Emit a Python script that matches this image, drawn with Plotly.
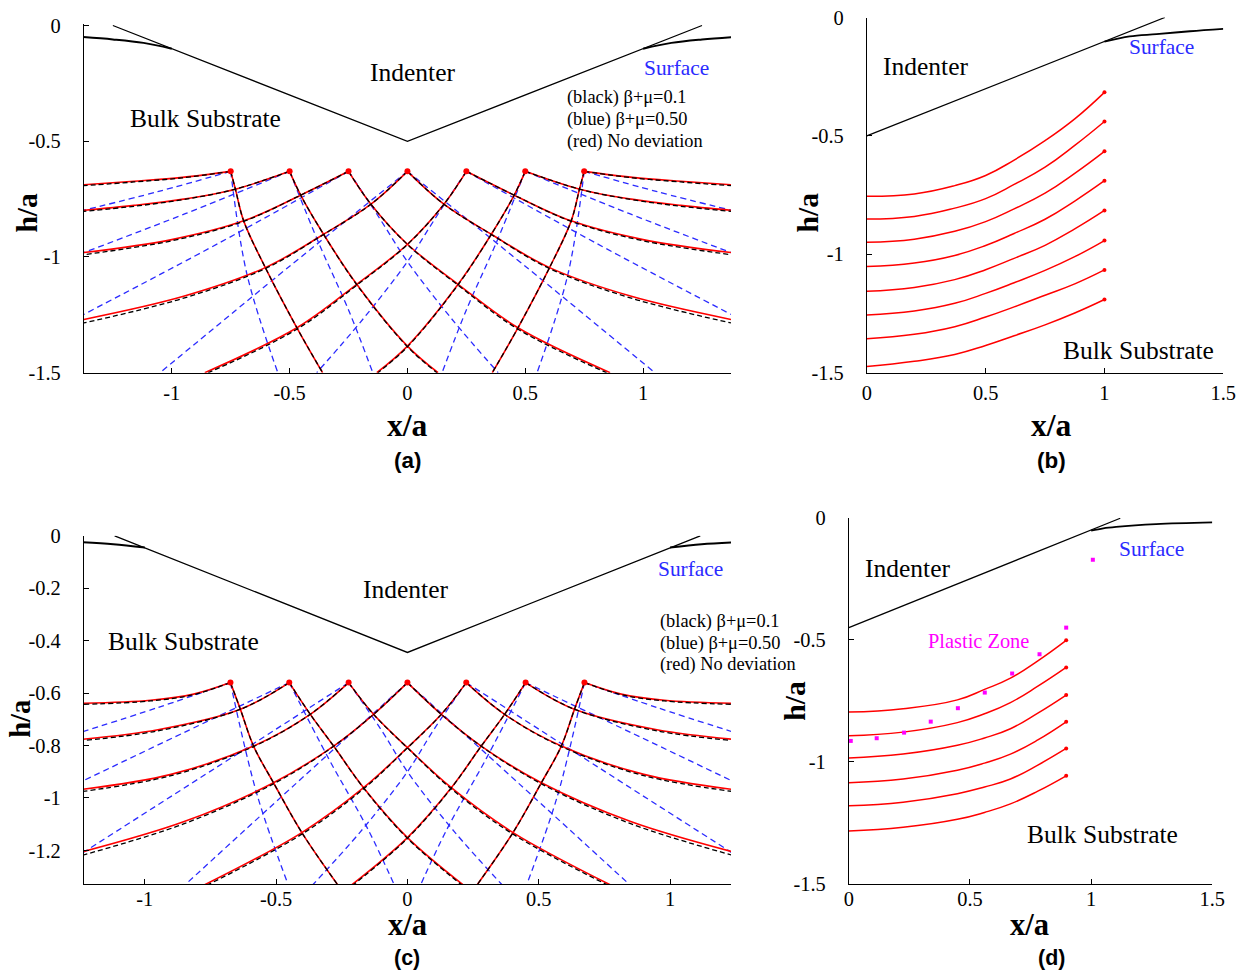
import plotly.graph_objects as go

W, H = 1252, 979
# measured mapping of the photographed page: shown = S * figure_px + O
SX, OX = 0.987, 4.0
SY, OY = 0.977, 10.5
FS = 1.02  # font compensation for that scaling

# ---------------- Panel (a) data ----------------
A_NODES_X = [-0.75, -0.5, -0.25, 0.0, 0.25, 0.5, 0.75]
A_NODES_Y = [-0.63, -0.63, -0.63, -0.63, -0.63, -0.63, -0.63]
A_INDENTER_X = [-1.25, 0.0, 1.25]
A_INDENTER_Y = [0.0, -0.5, 0.0]
A_SURF_X = [-1.375, -1.25, -1.12, -1.0]
A_SURF_Y = [-0.05, -0.06, -0.075, -0.1]
# left-going slip lines from nodes k=-3..3 (right-going ones are their mirror images)
A_RED_X = [
    [-0.75, -0.955, -1.16, -1.373],
    [-0.5, -0.73, -0.95, -1.16, -1.373],
    [-0.25, -0.453, -0.695, -1.0, -1.373],
    [0.0, -0.155, -0.356, -0.603, -0.95, -1.373],
    [0.25, 0.155, 0.0, -0.215, -0.469, -0.86],
    [0.5, 0.453, 0.356, 0.215, 0.0, -0.13],
    [0.75, 0.73, 0.695, 0.603, 0.469, 0.36],
]
A_RED_Y = [
    [-0.63, -0.656, -0.673, -0.688],
    [-0.63, -0.707, -0.75, -0.777, -0.798],
    [-0.63, -0.733, -0.844, -0.925, -0.981],
    [-0.63, -0.772, -0.902, -1.046, -1.17, -1.27],
    [-0.63, -0.772, -0.945, -1.118, -1.306, -1.5],
    [-0.63, -0.733, -0.902, -1.118, -1.385, -1.5],
    [-0.63, -0.707, -0.844, -1.046, -1.306, -1.5],
]
A_BLACK_X = [
    [-0.75, -0.955, -1.16, -1.373],
    [-0.5, -0.73, -0.95, -1.16, -1.373],
    [-0.25, -0.453, -0.695, -1.0, -1.373],
    [0.0, -0.155, -0.356, -0.603, -0.95, -1.373],
    [0.25, 0.155, 0.0, -0.215, -0.469, -0.845],
    [0.5, 0.453, 0.356, 0.215, 0.0, -0.125],
    [0.75, 0.73, 0.695, 0.603, 0.469, 0.36],
]
A_BLACK_Y = [
    [-0.63, -0.658, -0.676, -0.692],
    [-0.63, -0.707, -0.752, -0.781, -0.803],
    [-0.63, -0.733, -0.846, -0.930, -0.990],
    [-0.63, -0.772, -0.903, -1.050, -1.178, -1.285],
    [-0.63, -0.772, -0.946, -1.122, -1.312, -1.5],
    [-0.63, -0.733, -0.902, -1.120, -1.388, -1.5],
    [-0.63, -0.707, -0.844, -1.046, -1.306, -1.5],
]
A_BLUE_X = [
    [-0.75, -1.06, -1.373],
    [-0.5, -0.94, -1.373],
    [-0.25, -0.8, -1.373],
    [0.0, -0.5, -1.05],
    [0.25, 0.12, 0.0, -0.19, -0.385],
    [0.5, 0.375, 0.25, 0.147],
    [0.75, 0.681, 0.55],
]
A_BLUE_Y = [
    [-0.63, -0.718, -0.798],
    [-0.63, -0.812, -0.981],
    [-0.63, -0.94, -1.248],
    [-0.63, -1.04, -1.5],
    [-0.63, -0.83, -1.02, -1.27, -1.5],
    [-0.63, -0.943, -1.229, -1.5],
    [-0.63, -1.075, -1.5],
]

# ---------------- Panel (c) data ----------------
C_NODES_X = [-0.674, -0.45, -0.224, 0.0, 0.224, 0.45, 0.674]
C_NODES_Y = [-0.56, -0.56, -0.56, -0.56, -0.56, -0.56, -0.56]
C_INDENTER_X = [-1.115, 0.0, 1.115]
C_INDENTER_Y = [0.0, -0.445, 0.0]
C_SURF_X = [-1.236, -1.12, -1.0]
C_SURF_Y = [-0.025, -0.032, -0.045]
C_RED_X = [
    [-0.674, -0.814, -0.978, -1.236],
    [-0.45, -0.636, -0.95, -1.236],
    [-0.224, -0.37, -0.586, -0.9, -1.236],
    [0.0, -0.129, -0.281, -0.51, -0.85, -1.236],
    [0.224, 0.129, 0.0, -0.167, -0.402, -0.782],
    [0.45, 0.37, 0.281, 0.167, 0.0, -0.218],
    [0.674, 0.636, 0.586, 0.51, 0.402, 0.262],
]
C_RED_Y = [
    [-0.56, -0.604, -0.627, -0.639],
    [-0.56, -0.662, -0.74, -0.776],
    [-0.56, -0.681, -0.802, -0.91, -0.967],
    [-0.56, -0.681, -0.802, -0.942, -1.09, -1.205],
    [-0.56, -0.681, -0.808, -0.961, -1.132, -1.336],
    [-0.56, -0.681, -0.802, -0.961, -1.151, -1.336],
    [-0.56, -0.662, -0.802, -0.942, -1.132, -1.336],
]
C_BLACK_X = [
    [-0.674, -0.814, -0.978, -1.236],
    [-0.45, -0.636, -0.95, -1.236],
    [-0.224, -0.37, -0.586, -0.9, -1.236],
    [0.0, -0.129, -0.281, -0.51, -0.85, -1.236],
    [0.224, 0.129, 0.0, -0.167, -0.402, -0.77],
    [0.45, 0.37, 0.281, 0.167, 0.0, -0.212],
    [0.674, 0.636, 0.586, 0.51, 0.402, 0.262],
]
C_BLACK_Y = [
    [-0.56, -0.606, -0.630, -0.643],
    [-0.56, -0.662, -0.744, -0.781],
    [-0.56, -0.681, -0.804, -0.915, -0.975],
    [-0.56, -0.681, -0.803, -0.946, -1.098, -1.218],
    [-0.56, -0.681, -0.809, -0.965, -1.138, -1.336],
    [-0.56, -0.681, -0.802, -0.962, -1.154, -1.336],
    [-0.56, -0.662, -0.802, -0.942, -1.132, -1.336],
]
C_BLUE_X = [
    [-0.674, -0.95, -1.236],
    [-0.45, -0.85, -1.236],
    [-0.224, -0.73, -1.236],
    [0.0, -0.43, -0.852],
    [0.224, 0.1, 0.0, -0.18, -0.365],
    [0.45, 0.3, 0.15, 0.048],
    [0.674, 0.573, 0.452],
]
C_BLUE_Y = [
    [-0.56, -0.655, -0.747],
    [-0.56, -0.75, -0.935],
    [-0.56, -0.885, -1.209],
    [-0.56, -0.95, -1.336],
    [-0.56, -0.74, -0.90, -1.13, -1.336],
    [-0.56, -0.85, -1.12, -1.336],
    [-0.56, -0.986, -1.336],
]

# ---------------- Panel (b) data ----------------
B_INDENTER_X = [0.0, 1.254]
B_INDENTER_Y = [-0.5, 0.0]
B_SURF_X = [1.0, 1.106, 1.219, 1.36, 1.5]
B_SURF_Y = [-0.102, -0.080, -0.0705, -0.058, -0.048]
B_CURVE_X = [0.0, 0.2, 0.37, 0.5, 0.62, 0.75, 0.875, 1.0]
B_CURVES_Y = [
    [-0.755, -0.745, -0.710, -0.667, -0.602, -0.520, -0.428, -0.316],
    [-0.851, -0.840, -0.805, -0.765, -0.705, -0.632, -0.540, -0.439],
    [-0.949, -0.936, -0.903, -0.862, -0.808, -0.742, -0.658, -0.565],
    [-1.052, -1.037, -1.005, -0.963, -0.912, -0.852, -0.775, -0.689],
    [-1.156, -1.140, -1.107, -1.065, -1.017, -0.962, -0.893, -0.815],
    [-1.256, -1.239, -1.207, -1.165, -1.120, -1.068, -1.010, -0.942],
    [-1.357, -1.338, -1.306, -1.265, -1.222, -1.173, -1.125, -1.066],
    [-1.474, -1.452, -1.423, -1.385, -1.344, -1.298, -1.248, -1.191],
]

# ---------------- Panel (d) data ----------------
D_INDENTER_X = [0.0, 1.12]
D_INDENTER_Y = [-0.45, -0.002]
D_SURF_X = [1.0, 1.05, 1.103, 1.268, 1.5]
D_SURF_Y = [-0.053, -0.043, -0.037, -0.026, -0.019]
D_CURVE_X = [0.0, 0.224, 0.448, 0.56, 0.667, 0.78, 0.897]
D_CURVES_Y = [
    [-0.796, -0.782, -0.746, -0.703, -0.657, -0.586, -0.502],
    [-0.893, -0.878, -0.839, -0.803, -0.757, -0.690, -0.613],
    [-0.984, -0.968, -0.932, -0.902, -0.864, -0.800, -0.726],
    [-1.085, -1.070, -1.034, -1.005, -0.968, -0.910, -0.836],
    [-1.180, -1.165, -1.130, -1.103, -1.070, -1.013, -0.945],
    [-1.283, -1.268, -1.235, -1.207, -1.172, -1.120, -1.057],
]
D_PLASTIC_X = [0.008, 0.115, 0.228, 0.338, 0.45, 0.561, 0.674, 0.787, 0.897, 1.007]
D_PLASTIC_Y = [-0.914, -0.903, -0.88, -0.835, -0.78, -0.716, -0.638, -0.559, -0.45, -0.172]

# tick labels
A_XTICKS = [-1, -0.5, 0, 0.5, 1]
A_XTEXT = ["-1", "-0.5", "0", "0.5", "1"]
A_YTICKS = [0, -0.5, -1, -1.5]
A_YTEXT = ["0", "-0.5", "-1", "-1.5"]
B_XTICKS = [0, 0.5, 1, 1.5]
B_XTEXT = ["0", "0.5", "1", "1.5"]
C_YTICKS = [0, -0.2, -0.4, -0.6, -0.8, -1.0, -1.2]
C_YTEXT = ["0", "-0.2", "-0.4", "-0.6", "-0.8", "-1", "-1.2"]

SERIF = "Liberation Serif"
RED = "#ff0000"
BLUE = "#2b2bff"

fig = go.Figure()


def line(xs, ys, ax, color, width=1.4, dash=None, shape="spline", smoothing=1.0):
    ln = dict(color=color, width=width, dash=dash, shape=shape)
    if shape == "spline":
        ln["smoothing"] = smoothing
    fig.add_trace(go.Scatter(
        x=xs, y=ys, mode="lines", xaxis="x" + ax, yaxis="y" + ax,
        line=ln, hoverinfo="skip", showlegend=False))


def family(xl, yl, ax, color, width, dash):
    for xs, ys in zip(xl, yl):
        line(xs, ys, ax, color, width, dash)
        line([-v for v in xs], ys, ax, color, width, dash)


def dots(xs, ys, ax, color, size, symbol="circle"):
    fig.add_trace(go.Scatter(
        x=xs, y=ys, mode="markers", xaxis="x" + ax, yaxis="y" + ax,
        marker=dict(color=color, size=size, symbol=symbol, line=dict(width=0)),
        hoverinfo="skip", showlegend=False, cliponaxis=False))


# panel (a) -> axis ""  ; (b) -> "2" ; (c) -> "3" ; (d) -> "4"
family(A_BLUE_X, A_BLUE_Y, "", BLUE, 1.3, "6px,4px")
family(A_RED_X, A_RED_Y, "", RED, 1.6, None)
family(A_BLACK_X, A_BLACK_Y, "", "black", 1.3, "5px,3px")
line(A_INDENTER_X, A_INDENTER_Y, "", "black", 1.3, None, "linear")
line(A_SURF_X, A_SURF_Y, "", "black", 2.0)
line([-v for v in A_SURF_X], A_SURF_Y, "", "black", 2.0)
dots(A_NODES_X, A_NODES_Y, "", RED, 6)

family(C_BLUE_X, C_BLUE_Y, "3", BLUE, 1.3, "6px,4px")
family(C_RED_X, C_RED_Y, "3", RED, 1.6, None)
family(C_BLACK_X, C_BLACK_Y, "3", "black", 1.3, "5px,3px")
line(C_INDENTER_X, C_INDENTER_Y, "3", "black", 1.3, None, "linear")
line(C_SURF_X, C_SURF_Y, "3", "black", 2.0)
line([-v for v in C_SURF_X], C_SURF_Y, "3", "black", 2.0)
dots(C_NODES_X, C_NODES_Y, "3", RED, 6)

line(B_INDENTER_X, B_INDENTER_Y, "2", "black", 1.3, None, "linear")
line(B_SURF_X, B_SURF_Y, "2", "black", 1.8)
for ys in B_CURVES_Y:
    line(B_CURVE_X, ys, "2", RED, 1.5, smoothing=1.3)
dots([B_CURVE_X[-1]] * len(B_CURVES_Y), [c[-1] for c in B_CURVES_Y], "2", RED, 4)

line(D_INDENTER_X, D_INDENTER_Y, "4", "black", 1.3, None, "linear")
line(D_SURF_X, D_SURF_Y, "4", "black", 1.8)
for ys in D_CURVES_Y:
    line(D_CURVE_X, ys, "4", RED, 1.5, smoothing=1.3)
dots([D_CURVE_X[-1]] * len(D_CURVES_Y), [c[-1] for c in D_CURVES_Y], "4", RED, 4)
dots(D_PLASTIC_X, D_PLASTIC_Y, "4", "#ff00ff", 4, "square")


def fx(px):
    return ((px - OX) / SX) / W


def fy(py):
    return 1 - ((py - OY) / SY) / H


def xd(p0, p1):
    return [fx(p0), fx(p1)]


def yd(ptop, pbot):
    return [fy(pbot), fy(ptop)]


def axis(domain, rng, tv, tt, anchor, standoff):
    return dict(domain=domain, range=rng, tickvals=tv, ticktext=tt, anchor=anchor,
                showline=True, linecolor="black", linewidth=1, mirror=False,
                ticks="inside", ticklen=5, tickcolor="black", tickwidth=1,
                showgrid=False, zeroline=False, fixedrange=True,
                ticklabelstandoff=standoff,
                tickfont=dict(family=SERIF, size=20 * FS, color="black"))


fig.update_layout(
    width=W, height=H, margin=dict(l=0, r=0, t=0, b=0),
    paper_bgcolor="white", plot_bgcolor="white",
    xaxis=axis(xd(83, 731), [-1.373, 1.373], A_XTICKS, A_XTEXT, "y", 2),
    yaxis=axis(yd(23, 372), [-1.5, 0.0087], A_YTICKS, A_YTEXT, "x", 18),
    xaxis2=axis(xd(867, 1224), [0, 1.5], B_XTICKS, B_XTEXT, "y2", 2),
    yaxis2=axis(yd(17, 372), [-1.5, 0.0], A_YTICKS, A_YTEXT, "x2", 18),
    xaxis3=axis(xd(83, 731), [-1.232, 1.232], A_XTICKS, A_XTEXT, "y3", -3),
    yaxis3=axis(yd(535, 883), [-1.328, 0.0], C_YTICKS, C_YTEXT, "x3", 18),
    xaxis4=axis(xd(849, 1213), [0, 1.5], B_XTICKS, B_XTEXT, "y4", -3),
    yaxis4=axis(yd(517, 883), [-1.5, 0.0], A_YTICKS, A_YTEXT, "x4", 18),
)

ann = []


def text(t, px, py, size, color="black", family=SERIF, xanchor="center", angle=0, bold=False):
    if bold:
        t = "<b>" + t + "</b>"
    ann.append(dict(text=t, x=fx(px), y=fy(py), xref="paper", yref="paper",
                    xanchor=xanchor, yanchor="middle", showarrow=False, textangle=angle,
                    font=dict(family=family, size=size * FS, color=color)))


# panel (a)
text("Indenter", 412, 72, 25)
text("Bulk Substrate", 205, 118, 25)
text("Surface", 676, 67, 21, BLUE)
text("(black) β+μ=0.1", 565, 97, 18, xanchor="left")
text("(blue) β+μ=0.50", 565, 119, 18, xanchor="left")
text("(red) No deviation", 565, 141, 18, xanchor="left")
text("x/a", 407, 425, 31, bold=True)
text("h/a", 26, 212, 29, angle=-90, bold=True)
text("(a)", 407, 460, 22, family="Liberation Sans", bold=True)
# panel (b)
text("Indenter", 926, 66, 25)
text("Surface", 1162, 46, 21, BLUE)
text("Bulk Substrate", 1139, 350, 25)
text("x/a", 1052, 425, 31, bold=True)
text("h/a", 808, 212, 29, angle=-90, bold=True)
text("(b)", 1052, 460, 22, family="Liberation Sans", bold=True)
# panel (c)
text("Indenter", 405, 589, 25)
text("Bulk Substrate", 183, 641, 25)
text("Surface", 690, 568, 21, BLUE)
text("(black) β+μ=0.1", 658, 621, 18, xanchor="left")
text("(blue) β+μ=0.50", 658, 643, 18, xanchor="left")
text("(red) No deviation", 658, 664, 18, xanchor="left")
text("x/a", 407, 924, 30, bold=True)
text("h/a", 20, 718, 28, angle=-90, bold=True)
text("(c)", 407, 957, 21, family="Liberation Sans", bold=True)
# panel (d)
text("Indenter", 908, 568, 25)
text("Surface", 1152, 548, 21, BLUE)
text("Plastic Zone", 979, 640, 20, "#ff00ff")
text("Bulk Substrate", 1103, 834, 25)
text("x/a", 1030, 924, 30, bold=True)
text("h/a", 795, 700, 29, angle=-90, bold=True)
text("(d)", 1052, 957, 21, family="Liberation Sans", bold=True)

fig.update_layout(annotations=ann)
fig.write_html("out.html")
